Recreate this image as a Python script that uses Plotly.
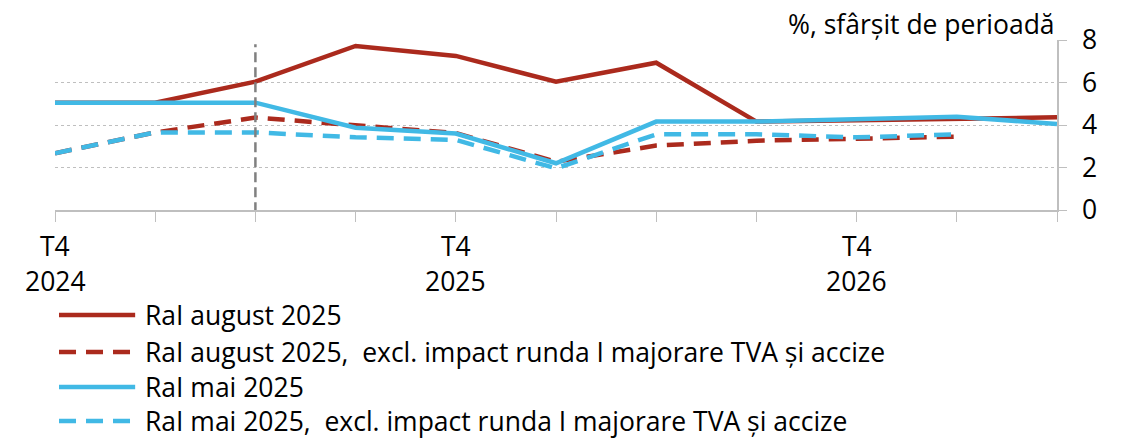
import plotly.graph_objects as go

# Quarterly horizon: T4 2024 .. T2 2027
quarters = ["T4 2024", "T1 2025", "T2 2025", "T3 2025", "T4 2025", "T1 2026",
            "T2 2026", "T3 2026", "T4 2026", "T1 2027", "T2 2027"]

# Annual inflation rate, %, end of period
ral_aug = [5.05, 5.05, 6.04, 7.72, 7.25, 6.04, 6.93, 4.16, 4.22, 4.30, 4.36]
ral_aug_excl = [2.67, 3.65, 4.35, 3.98, 3.62, 2.27, 3.03, 3.26, 3.37, 3.45, None]
ral_mai = [5.05, 5.05, 5.05, 3.87, 3.60, 2.20, 4.16, 4.16, 4.25, 4.39, 4.05]
ral_mai_excl = [2.67, 3.65, 3.65, 3.42, 3.30, 1.96, 3.56, 3.56, 3.42, 3.56, None]

series_names = [
    "RaI august 2025",
    "RaI august 2025,&nbsp; excl. impact runda I majorare TVA și accize",
    "RaI mai 2025",
    "RaI mai 2025,&nbsp; excl. impact runda I majorare TVA și accize",
]

# x-axis labels shown at the fourth quarter of each year
year_ticks = ["T4 2024", "T4 2025", "T4 2026"]
year_labels = ["2024", "2025", "2026"]
quarter_label = "T4"

# Vertical marker at the last observed quarter
marker_quarter = "T2 2025"

y_ticks = [0, 2, 4, 6, 8]
unit_title = "%, sfârșit de perioadă"

RED = "#AB2A1D"
BLUE = "#41B9E5"
GRID = "#BFBFBF"
FONT = "Open Sans"
FS = 26.5
DASH = "17px,10px"

series = [
    (ral_aug, RED, "solid"),
    (ral_aug_excl, RED, DASH),
    (ral_mai, BLUE, "solid"),
    (ral_mai_excl, BLUE, DASH),
]

fig = go.Figure()
for (vals, color, dash), name in zip(series, series_names):
    fig.add_trace(go.Scatter(
        x=quarters, y=vals, name=name.replace("&nbsp;", " "), mode="lines",
        line=dict(color=color, width=4.5, dash=dash),
        connectgaps=False, showlegend=False,
    ))

# vertical dashed separator
fig.add_shape(type="line", xref="x", yref="y",
              x0=quarters.index(marker_quarter), x1=quarters.index(marker_quarter),
              y0=-0.1, y1=7.8,
              line=dict(color="#808080", width=2.5, dash="10px,5px"))

annotations = []
# two-line x-axis labels
for q, yr in zip(year_ticks, year_labels):
    annotations.append(dict(x=q, xref="x", y=-0.212, yref="paper", text=quarter_label,
                            showarrow=False, xanchor="center", yanchor="middle",
                            font=dict(family=FONT, size=FS, color="black")))
    annotations.append(dict(x=q, xref="x", y=-0.418, yref="paper", text=yr,
                            showarrow=False, xanchor="center", yanchor="middle",
                            font=dict(family=FONT, size=FS, color="black")))

# unit label above the right axis
annotations.append(dict(x=1.0, xref="paper", y=1.094, yref="paper", text=unit_title,
                        showarrow=False, xanchor="right", yanchor="middle",
                        font=dict(family=FONT, size=FS, color="black")))

# legend drawn below the plot: one row per series
legend_rows = [-0.618, -0.835, -1.041, -1.241]
for (vals, color, dash), name, ly in zip(series, series_names, legend_rows):
    fig.add_shape(type="line", xref="paper", yref="paper",
                  x0=0.004, x1=0.08, y0=ly, y1=ly,
                  line=dict(color=color, width=4.5, dash=dash))
    annotations.append(dict(x=0.0878, xref="paper", y=ly, yref="paper", text=name,
                            showarrow=False, xanchor="left", yanchor="middle",
                            font=dict(family=FONT, size=FS, color="black")))

fig.update_layout(
    width=1127, height=440,
    margin=dict(l=55, r=70, t=40, b=230),
    paper_bgcolor="white", plot_bgcolor="white",
    font=dict(family=FONT, size=FS, color="black"),
    annotations=annotations,
    xaxis=dict(
        type="category", range=[0, len(quarters) - 1],
        tickmode="array", tickvals=quarters, ticktext=[""] * len(quarters),
        ticks="outside", ticklen=10, tickcolor=GRID, tickwidth=1,
        showline=True, linecolor=GRID, linewidth=1.5,
        showgrid=False, zeroline=False,
    ),
    yaxis=dict(
        side="right", range=[0, 8], tickvals=y_ticks,
        ticks="outside", ticklen=8, tickcolor=GRID, tickwidth=1,
        showline=True, linecolor=GRID, linewidth=1.5,
        showgrid=True, gridcolor=GRID, griddash="dot", gridwidth=1,
        zeroline=False, ticklabelstandoff=10,
        tickfont=dict(family=FONT, size=FS, color="black"),
    ),
)

fig.write_html("out.html")
